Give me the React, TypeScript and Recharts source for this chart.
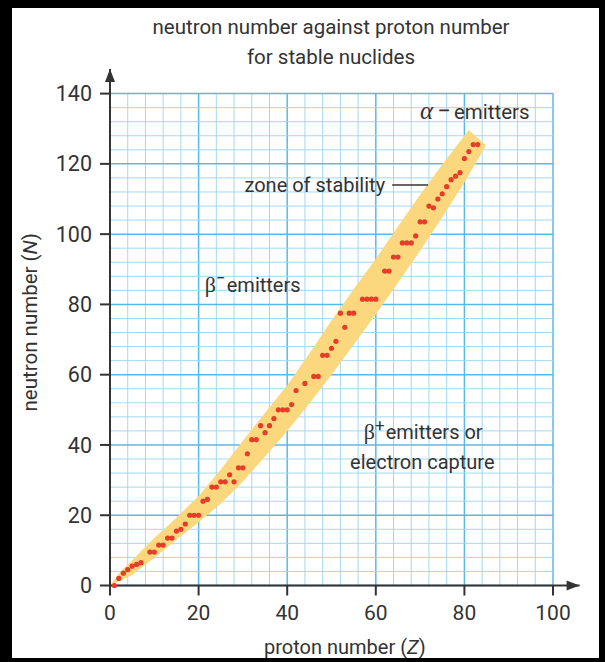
import React from 'react';
import {
  ComposedChart,
  XAxis,
  YAxis,
  Area,
  Scatter,
  ReferenceLine,
  ReferenceDot,
} from 'recharts';

// stable nuclides (Z, N)
const protonZ = [
  1, 2, 3, 4, 5, 6, 7, 9, 10, 11, 12, 13, 14, 15, 16, 17, 18, 19, 20, 21, 22, 23, 24, 25, 26, 27, 28, 29,
  30, 31, 32, 33, 34, 35, 36, 37, 38, 39, 40, 41, 42, 44, 46, 47, 48, 49, 50, 51, 52, 53, 54, 55, 57, 58,
  59, 60, 62, 63, 64, 65, 66, 67, 68, 69, 70, 71, 72, 73, 74, 75, 76, 77, 78, 79, 80, 81, 82, 83,
];
const neutronN = [
  0, 2, 3.5, 4.5, 5.5, 6, 6.5, 9.5, 9.5, 11.5, 11.5, 13.5, 13.5, 15.5, 16, 17.5, 20, 20, 20, 24, 24.5, 28,
  28, 29.5, 29.5, 31.5, 29.5, 33.5, 33.5, 37.5, 41.5, 41.5, 45.5, 43.5, 45.5, 47.5, 50, 50, 50, 51.5, 55.5,
  57.5, 59.5, 59.5, 65.5, 65.5, 67.5, 69.5, 77.5, 73.5, 77.5, 77.5, 81.5, 81.5, 81.5, 81.5, 89.5, 89.5,
  93.5, 93.5, 97.5, 97.5, 97.5, 99.5, 103.5, 103.5, 108, 107.5, 110, 111.5, 113.5, 115.5, 116.5, 117.5,
  121.5, 123.5, 125.5, 125.5,
];

// zone of stability: lower and upper edge of the yellow band
const bandZ = [0, 2, 5, 10, 15, 20, 25, 30, 35, 40, 45, 50, 55, 60, 65, 70, 75, 80, 81, 84.9];
const bandLow = [0, 1.2, 3, 7.9, 13, 18, 23.3, 29.6, 36.7, 44, 51.8, 60, 68.5, 77.2, 86.2, 95.3, 104.8, 114.8, 116.9, 125.3];
const bandHigh = [0, 3.4, 7.2, 13.5, 19.3, 25.5, 33, 41.2, 49.2, 57, 66, 75.4, 84.3, 93, 102.2, 111.2, 119.8, 128, 129.6, 125.3];

const xTicks = [0, 20, 40, 60, 80, 100];
const yTicks = [0, 20, 40, 60, 80, 100, 120, 140];

// graph paper: a line every 4 units, darker every 20
const gridX = Array.from({ length: 26 }, (_, i) => i * 4);
const gridY = Array.from({ length: 36 }, (_, i) => i * 4);

const bandData = bandZ.map((z, i) => ({ z, band: [bandLow[i], bandHigh[i]] }));
const nuclides = protonZ.map((z, i) => ({ z, n: neutronN[i] }));
const xEnd = [{ z: 106, n: 0 }];
const yEnd = [{ z: 0, n: 147 }];

const INK = '#333';
const FONT = 'Roboto, "Noto Sans", sans-serif';
const SERIF = '"Liberation Serif", "DejaVu Serif", serif';
const W = 605;
const H = 662;
const X_DOMAIN = [0, 106];
const Y_DOMAIN = [0, 147];
const MARGIN = { top: 69, right: 25.4, bottom: 0, left: 0 };

const dot = (p: any) => <circle cx={p.cx} cy={p.cy} r={2.6} fill="#e43d2c" />;
const arrowRight = (p: any) => (
  <polygon points={`${p.cx},${p.cy} ${p.cx - 13},${p.cy - 5} ${p.cx - 13},${p.cy + 5}`} fill={INK} />
);
const arrowUp = (p: any) => (
  <polygon points={`${p.cx},${p.cy} ${p.cx - 5},${p.cy + 13} ${p.cx + 5},${p.cy + 13}`} fill={INK} />
);

// label content anchored on a ReferenceDot
const note = (draw: (x: number, y: number) => React.ReactNode) => (props: any) => {
  const vb = props.viewBox || {};
  const x = (vb.x ?? 0) + (vb.width ?? 0) / 2;
  const y = (vb.y ?? 0) + (vb.height ?? 0) / 2;
  return <g>{draw(x, y + 7)}</g>;
};

// grid paper sits in its own chart underneath, so the band covers it
function GridPaper() {
  return (
    <ComposedChart width={W} height={H} data={bandData} margin={MARGIN}>
      <XAxis type="number" dataKey="z" domain={X_DOMAIN} ticks={xTicks} height={76.5} axisLine={false} tickLine={false} tick={false} />
      <YAxis type="number" domain={Y_DOMAIN} ticks={yTicks} width={110} axisLine={false} tickLine={false} tick={false} />
      <Area dataKey="band" stroke="none" fill="none" isAnimationActive={false} />
      {gridX.map((v) => (
        <ReferenceLine
          key={'gx' + v}
          segment={[{ x: v, y: 0 }, { x: v, y: 140 }]}
          stroke={v % 20 === 0 ? '#58b9e8' : '#a2d8f3'}
          strokeWidth={v % 20 === 0 ? 1.5 : 1}
        />
      ))}
      {gridY.map((v) => (
        <ReferenceLine
          key={'gy' + v}
          segment={[{ x: 0, y: v }, { x: 100, y: v }]}
          stroke={v % 20 === 0 ? '#58b9e8' : '#a2d8f3'}
          strokeWidth={v % 20 === 0 ? 1.5 : 1}
        />
      ))}
    </ComposedChart>
  );
}

export default function App() {
  return (
    <div style={{ position: 'fixed', left: 0, top: 0, width: W, height: H, background: '#fff', overflow: 'hidden' }}>
      <div
        style={{
          position: 'absolute',
          top: 12,
          left: 0,
          width: 662,
          textAlign: 'center',
          fontFamily: FONT,
          fontSize: 20.5,
          lineHeight: '30px',
          color: INK,
        }}
      >
        neutron number against proton number
        <br />
        for stable nuclides
      </div>
      <div style={{ position: 'absolute', left: 0, top: 0 }}>
        <GridPaper />
      </div>
      <div style={{ position: 'absolute', left: 0, top: 0 }}>
        <ComposedChart width={W} height={H} data={bandData} margin={MARGIN}>
          <XAxis
            dataKey="z"
            type="number"
            domain={X_DOMAIN}
            ticks={xTicks}
            height={76.5}
            tickSize={10}
            tickMargin={10}
            axisLine={{ stroke: INK, strokeWidth: 2 }}
            tickLine={{ stroke: INK, strokeWidth: 2 }}
            tick={{ fontSize: 21, fill: INK, fontFamily: FONT }}
            label={{
              content: (props: any) => {
                const vb = props.viewBox || {};
                return (
                  <text x={vb.x + vb.width / 2} y={vb.y + 68} textAnchor="middle" fontSize={20} fill={INK} fontFamily={FONT}>
                    proton number (<tspan fontStyle="italic">Z</tspan>)
                  </text>
                );
              },
            }}
          />
          <YAxis
            type="number"
            domain={Y_DOMAIN}
            ticks={yTicks}
            width={110}
            tickSize={10}
            tickMargin={8}
            axisLine={{ stroke: INK, strokeWidth: 2 }}
            tickLine={{ stroke: INK, strokeWidth: 2 }}
            tick={{ fontSize: 21.5, fill: INK, fontFamily: FONT }}
            label={{
              content: (props: any) => {
                const vb = props.viewBox || {};
                const cx = vb.x + 30;
                const cy = vb.y + vb.height / 2 - 5;
                return (
                  <text
                    x={cx}
                    y={cy + 7}
                    transform={`rotate(-90 ${cx} ${cy})`}
                    textAnchor="middle"
                    fontSize={20.5}
                    fill={INK}
                    fontFamily={FONT}
                  >
                    neutron number (<tspan fontStyle="italic">N</tspan>)
                  </text>
                );
              },
            }}
          />

          <Area
            dataKey="band"
            type="linear"
            fill="#fbd77d"
            fillOpacity={1}
            stroke="none"
            isAnimationActive={false}
          />
          <Scatter data={nuclides} dataKey="n" shape={dot} isAnimationActive={false} />
          <Scatter data={xEnd} dataKey="n" shape={arrowRight} isAnimationActive={false} />
          <Scatter data={yEnd} dataKey="n" shape={arrowUp} isAnimationActive={false} />

          <ReferenceLine segment={[{ x: 63.7, y: 114 }, { x: 71.8, y: 114 }]} stroke={INK} strokeWidth={1.5} />
          <ReferenceDot
            x={70}
            y={134.7}
            r={0}
            fill="none"
            stroke="none"
            label={{
              content: note((x, y) => (
                <text x={x} y={y} fontSize={20.5} fill={INK} fontFamily={FONT}>
                  <tspan fontFamily={SERIF} fontStyle="italic" fontSize={25}>α</tspan>
                  <tspan dx={4} fontSize={24}>−</tspan>
                  <tspan dx={3}>emitters</tspan>
                </text>
              )),
            }}
          />
          <ReferenceDot
            x={62.1}
            y={114}
            r={0}
            fill="none"
            stroke="none"
            label={{
              content: note((x, y) => (
                <text x={x} y={y} textAnchor="end" fontSize={20} fill={INK} fontFamily={FONT}>
                  zone of stability
                </text>
              )),
            }}
          />
          <ReferenceDot
            x={21.4}
            y={85.5}
            r={0}
            fill="none"
            stroke="none"
            label={{
              content: note((x, y) => (
                <text x={x} y={y} fontSize={20} fill={INK} fontFamily={FONT}>
                  <tspan fontFamily={SERIF} fontSize={22}>β</tspan>
                  <tspan fontSize={17} dy={-8}>−</tspan>
                  <tspan dy={8} dx={1}>emitters</tspan>
                </text>
              )),
            }}
          />
          <ReferenceDot
            x={70.7}
            y={43.7}
            r={0}
            fill="none"
            stroke="none"
            label={{
              content: note((x, y) => (
                <text x={x} y={y} textAnchor="middle" fontSize={20} fill={INK} fontFamily={FONT}>
                  <tspan fontFamily={SERIF} fontSize={22}>β</tspan>
                  <tspan fontSize={17} dy={-8}>+</tspan>
                  <tspan dy={8} dx={1}>emitters or</tspan>
                </text>
              )),
            }}
          />
          <ReferenceDot
            x={70.5}
            y={35.1}
            r={0}
            fill="none"
            stroke="none"
            label={{
              content: note((x, y) => (
                <text x={x} y={y} textAnchor="middle" fontSize={20} fill={INK} fontFamily={FONT}>
                  electron capture
                </text>
              )),
            }}
          />
        </ComposedChart>
      </div>
      <div style={{ position: 'absolute', left: 0, top: 0, width: 12, height: H, background: '#000' }} />
      <div style={{ position: 'absolute', left: 0, top: 0, width: W, height: 8, background: '#000' }} />
      <div style={{ position: 'absolute', left: 599, top: 0, width: 6, height: H, background: '#000' }} />
      <div style={{ position: 'absolute', left: 0, top: 658, width: W, height: 4, background: '#000' }} />
    </div>
  );
}
